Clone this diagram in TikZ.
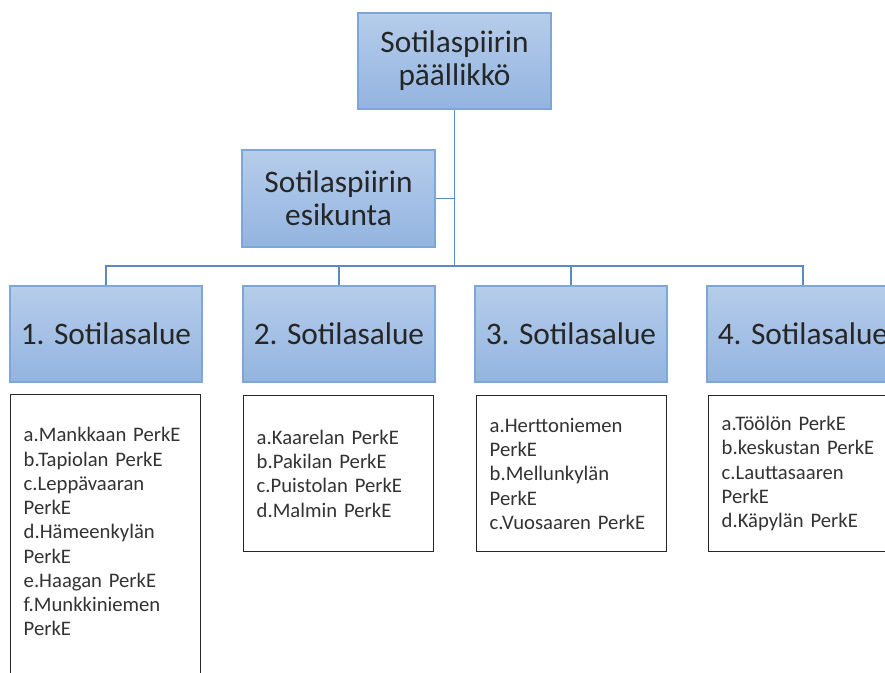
\documentclass[tikz,border=0pt]{standalone}
\usepackage{fontspec}
\setmainfont{Carlito}
\usepackage{tikz}
\definecolor{boxtop}{HTML}{B6CDEB}
\definecolor{boxbot}{HTML}{93B4E0}
\definecolor{boxline}{HTML}{7EA6D9}
\definecolor{linkblue}{HTML}{5B8AC6}
\newcommand\unitfont{\fontsize{23.5pt}{24.75pt}\selectfont}
\newcommand\listfont{\fontsize{15.5pt}{18.2pt}\selectfont}
\tikzset{
	unit/.style={draw=boxline, line width=0.9pt, top color=boxtop, bottom color=boxbot,
		text=black!85, align=center, font=\unitfont, inner sep=0pt},
	areabox/.style={unit, minimum width=144pt, minimum height=72pt},
	listbox/.style={draw=black!85, line width=1.1pt, fill=white, text=black!80,
		font=\listfont, align=left, text width=123pt, inner xsep=9.75pt, inner ysep=0pt,
		minimum height=117pt},
	link/.style={draw=linkblue, line width=1.2pt}
}
\begin{document}
\begin{tikzpicture}[x=0.75pt, y=-0.75pt]
	% frame of the picture
	\useasboundingbox (0,0) rectangle (885,672);
	\clip (0,0) rectangle (885,672);
	% the head and his staff
	\node[unit, minimum width=144.75pt, minimum height=72pt] (boss) at (454.5,61) {Sotilaspiirin\\päällikkö};
	\node[unit, minimum width=144.75pt, minimum height=72.75pt] (staff) at (338.5,198.5) {Sotilaspiirin\\esikunta};
	% the four areas
	\node[areabox] (area1) at (106,334) {1. Sotilasalue};
	\node[areabox] (area2) at (339,334) {2. Sotilasalue};
	\node[areabox] (area3) at (571,334) {3. Sotilasalue};
	\node[areabox] (area4) at (803,334) {4. Sotilasalue};
	% what each area holds
	\node[listbox, minimum height=229.5pt, anchor=north west] (list1) at (10,394)
		{a.Mankkaan PerkE\\b.Tapiolan PerkE\\c.Leppävaaran\\PerkE\\d.Hämeenkylän\\PerkE\\e.Haagan PerkE\\f.Munkkiniemen\\PerkE\par\vspace*{24pt}};
	\node[listbox, anchor=north west] (list2) at (243,395)
		{a.Kaarelan PerkE\\b.Pakilan PerkE\\c.Puistolan PerkE\\d.Malmin PerkE};
	\node[listbox, anchor=north west] (list3) at (476,395)
		{a.Herttoniemen\\PerkE\\b.Mellunkylän\\PerkE\\c.Vuosaaren PerkE};
	\node[listbox, anchor=north west] (list4) at (708,395)
		{a.Töölön PerkE\\b.keskustan PerkE\\c.Lauttasaaren\\PerkE\\d.Käpylän PerkE};
	% the links
	\coordinate (bus) at (454.5,266);
	\draw[link] (boss.south) -- (bus);
	\draw[link] (staff.east) -- (staff.east -| boss.south);
	\draw[link] (area1.north) -- (area1.north |- bus) -- (area4.north |- bus) -- (area4.north);
	\foreach \n in {2,3}
		\draw[link] (area\n.north) -- (area\n.north |- bus);
\end{tikzpicture}
\end{document}
